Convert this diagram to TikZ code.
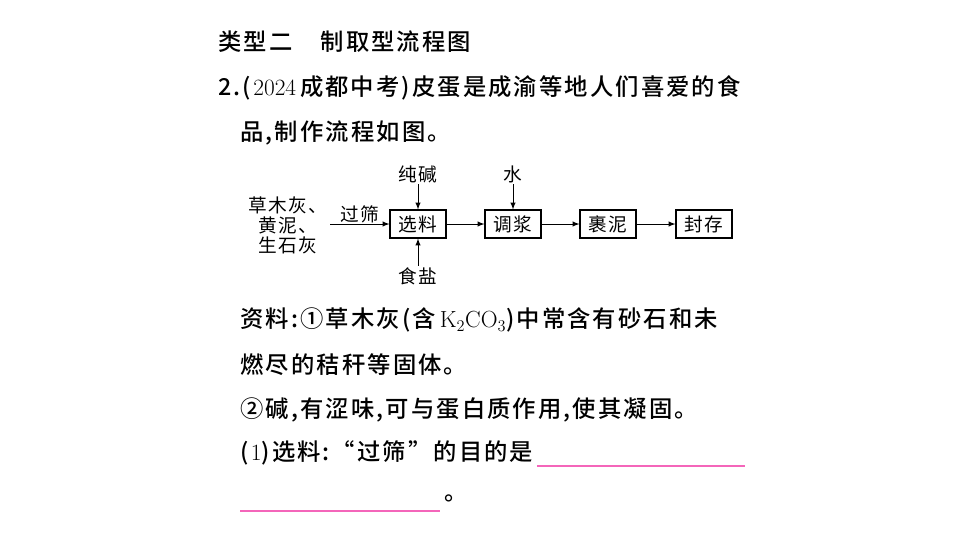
\documentclass[tikz,border=0pt]{standalone}
\usepackage{fontspec}
\newfontfamily\cjk[LetterSpace=8]{Noto Sans CJK SC}
\newfontfamily\cjkb[LetterSpace=9]{Noto Sans CJK SC Medium}
\usetikzlibrary{positioning}
\tikzset{every picture/.style={line width=0.75pt}}
\tikzset{
  txt/.style={anchor=west,inner sep=0pt,font=\cjkb\fontsize{17.5}{18}\selectfont},
  box/.style={draw,line width=0.8pt,minimum width=42pt,minimum height=21pt,inner sep=0pt,font=\cjk\fontsize{14}{15}\selectfont},
  lab/.style={inner sep=0.75pt,font=\cjk\fontsize{14}{15}\selectfont,align=center}
}
\begin{document}
\begin{tikzpicture}[x=0.75pt,y=0.75pt,yscale=-1]
\useasboundingbox (0,0) rectangle (960,540);
\fill[white] (0,0) rectangle (960,540);

\node[txt] (title) at (218,42) {类型二\hspace{1.2em}制取型流程图};
\node[txt] (q1) at (218,88) {2.(\textrm{2024}\,成都中考)皮蛋是成渝等地人们喜爱的食};
\node[txt] (q2) at (240,133) {品,制作流程如图。};

\node[box] (xl) at (418,224) {选料};
\node[box] (tj) at (513,224) {调浆};
\node[box] (gn) at (608,224) {裹泥};
\node[box] (fc) at (704,224) {封存};
\node[lab] (raw) at (288,225) {草木灰、\\黄泥、\\生石灰};
\coordinate (start) at (330,224);
\node[lab] (cj) at (418,174) {纯碱};
\node[lab] (sh) at (513,174) {水};
\node[lab] (ys) at (418,276) {食盐};

\draw[-latex] (start) -- node[lab,above] {过筛} (xl);
\draw[-latex] (xl) -- (tj);
\draw[-latex] (tj) -- (gn);
\draw[-latex] (gn) -- (fc);
\draw[-latex] (cj) -- (xl);
\draw[-latex] (sh) -- (tj);
\draw[-latex] (ys) -- (xl);

\node[txt] (r1) at (240,320) {资料:①草木灰(含\,\textrm{K\textsubscript{2}CO\textsubscript{3}})中常含有砂石和未};
\node[txt] (r2) at (240,365) {燃尽的秸秆等固体。};
\node[txt] (r3) at (240,410) {②碱,有涩味,可与蛋白质作用,使其凝固。};
\node[txt] (p1) at (240,453) {(\textrm{1})选料:“过筛”的目的是};
\node[txt] (p2) at (444,498) {。};
\coordinate (a1) at (537,466);
\coordinate (a2) at (745,466);
\coordinate (b1) at (240,511);
\coordinate (b2) at (440,511);
\draw[magenta!60,line width=0.8pt] (a1) -- (a2);
\draw[magenta!60,line width=0.8pt] (b1) -- (b2);
\end{tikzpicture}
\end{document}
